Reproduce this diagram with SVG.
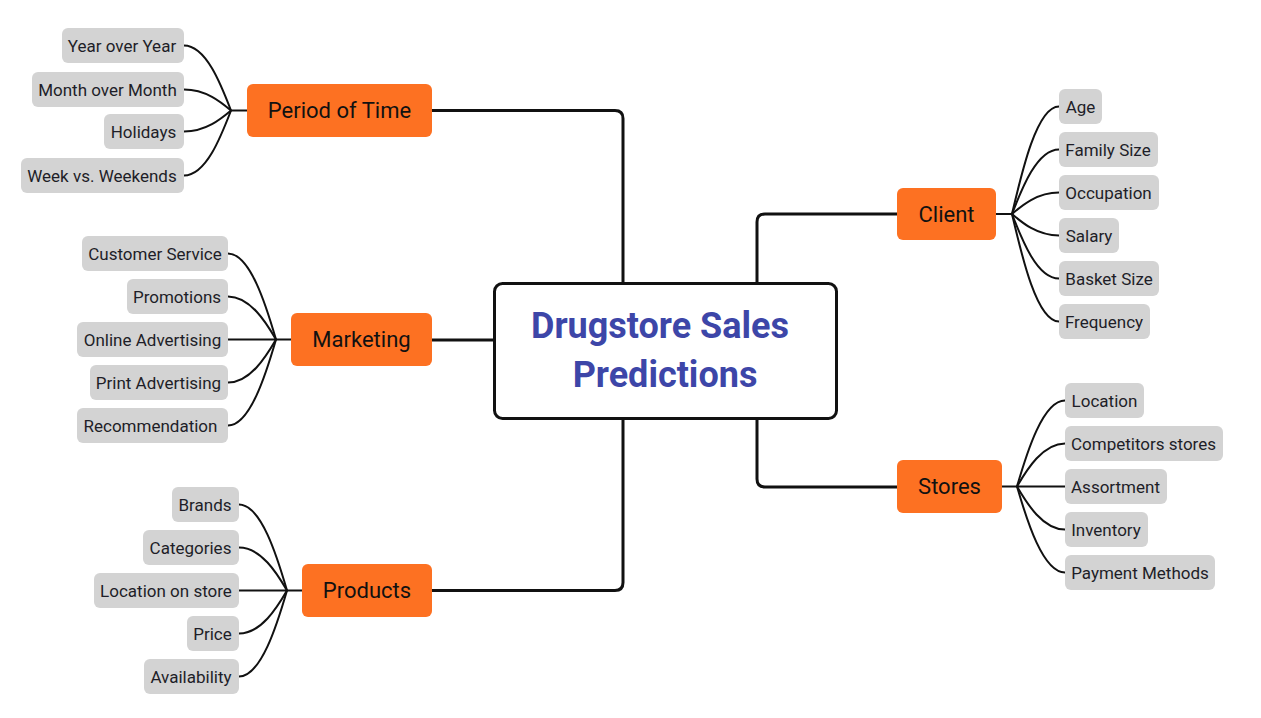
<svg xmlns="http://www.w3.org/2000/svg" width="1261" height="718" viewBox="0 0 1261 718">
<style>
.leaf rect{fill:#d3d3d3}
.leaf text{font-family:Roboto,"Liberation Sans",sans-serif;font-size:17px;fill:#1e1e28;text-anchor:middle}
.topic rect{fill:#fd7122}
.topic text{font-family:Roboto,"Liberation Sans",sans-serif;font-size:22px;fill:#111;text-anchor:middle}
.main{fill:none;stroke:#111;stroke-width:3}
.sub{fill:none;stroke:#111;stroke-width:2}
.title{font-family:Roboto,"Liberation Sans",sans-serif;font-size:36px;font-weight:bold;fill:#3d46a8;text-anchor:middle}
</style>
<rect width="1261" height="718" fill="#fff"/>
<g id="connectors">
<path class="main" d="M623,282 V118.5 Q623,110.5 615,110.5 H432"/>
<path class="main" d="M757,282 V222 Q757,214 765,214 H897"/>
<path class="main" d="M432,340 H493"/>
<path class="main" d="M623,420 V582.5 Q623,590.5 615,590.5 H432"/>
<path class="main" d="M757,420 V479 Q757,487 765,487 H897"/>
<path class="sub" d="M184,45.5 C206,45.5 221,84.5 231,110.5"/>
<path class="sub" d="M184,89.5 C206,89.5 221,102.1 231,110.5"/>
<path class="sub" d="M184,131.5 C206,131.5 221,118.9 231,110.5"/>
<path class="sub" d="M184,175.5 C206,175.5 221,136.5 231,110.5"/>
<path class="sub" d="M231,110.5 H247"/>
<path class="sub" d="M228,253.5 C250,253.5 266,305.1 276,339.5"/>
<path class="sub" d="M228,296.5 C250,296.5 266,322.3 276,339.5"/>
<path class="sub" d="M228,339.5 H291"/>
<path class="sub" d="M228,382.5 C250,382.5 266,356.7 276,339.5"/>
<path class="sub" d="M228,425.5 C250,425.5 266,373.9 276,339.5"/>
<path class="sub" d="M239,504.5 C261,504.5 277,556.1 287,590.5"/>
<path class="sub" d="M239,547.5 C261,547.5 277,573.3 287,590.5"/>
<path class="sub" d="M239,590.5 H302"/>
<path class="sub" d="M239,633.5 C261,633.5 277,607.7 287,590.5"/>
<path class="sub" d="M239,676.5 C261,676.5 277,624.9 287,590.5"/>
<path class="sub" d="M996,214 H1012"/>
<path class="sub" d="M1059,106.5 C1037,106.5 1022,171 1012,214"/>
<path class="sub" d="M1059,149.5 C1037,149.5 1022,188.2 1012,214"/>
<path class="sub" d="M1059,192.5 C1037,192.5 1022,205.4 1012,214"/>
<path class="sub" d="M1059,235.5 C1037,235.5 1022,222.6 1012,214"/>
<path class="sub" d="M1059,278.5 C1037,278.5 1022,239.8 1012,214"/>
<path class="sub" d="M1059,321.5 C1037,321.5 1022,257 1012,214"/>
<path class="sub" d="M1002,486.5 H1065"/>
<path class="sub" d="M1065,400.5 C1043,400.5 1027,452.1 1017,486.5"/>
<path class="sub" d="M1065,443.5 C1043,443.5 1027,469.3 1017,486.5"/>
<path class="sub" d="M1065,529.5 C1043,529.5 1027,503.7 1017,486.5"/>
<path class="sub" d="M1065,572.5 C1043,572.5 1027,520.9 1017,486.5"/>
</g>
<g id="center">
<rect x="494.5" y="283.5" width="342" height="135" rx="8" fill="#fff" stroke="#111" stroke-width="3"/>
<text class="title" x="660" y="338">Drugstore Sales</text>
<text class="title" x="665" y="387">Predictions</text>
</g>
<g id="period" class="topic"><rect x="247" y="84" width="185" height="53" rx="6"/><text x="339.5" y="118">Period of Time</text></g>
<g id="marketing" class="topic"><rect x="291" y="313" width="141" height="53" rx="6"/><text x="361.5" y="347">Marketing</text></g>
<g id="products" class="topic"><rect x="302" y="564" width="130" height="53" rx="6"/><text x="367" y="598">Products</text></g>
<g id="client" class="topic"><rect x="897" y="188" width="99" height="52" rx="6"/><text x="946.5" y="221.5">Client</text></g>
<g id="stores" class="topic"><rect x="897" y="460" width="105" height="53" rx="6"/><text x="949.5" y="494">Stores</text></g>

<g id="yoy" class="leaf"><rect x="62" y="28" width="122" height="35" rx="6"/><text x="122" y="51.5">Year over Year</text></g>
<g id="mom" class="leaf"><rect x="32" y="72" width="152" height="35" rx="6"/><text x="107.5" y="95.5">Month over Month</text></g>
<g id="holidays" class="leaf"><rect x="104" y="114" width="80" height="35" rx="6"/><text x="143.5" y="137.5">Holidays</text></g>
<g id="week" class="leaf"><rect x="21" y="158" width="163" height="35" rx="6"/><text x="102" y="181.5">Week vs. Weekends</text></g>

<g id="custserv" class="leaf"><rect x="82" y="236" width="146" height="35" rx="6"/><text x="155" y="259.5">Customer Service</text></g>
<g id="promotions" class="leaf"><rect x="127" y="279" width="101" height="35" rx="6"/><text x="177" y="302.5">Promotions</text></g>
<g id="online" class="leaf"><rect x="77" y="322" width="151" height="35" rx="6"/><text x="152.5" y="345.5">Online Advertising</text></g>
<g id="print" class="leaf"><rect x="90" y="365" width="138" height="35" rx="6"/><text x="158.5" y="388.5">Print Advertising</text></g>
<g id="recommendation" class="leaf"><rect x="77" y="408" width="151" height="35" rx="6"/><text x="150.5" y="431.5">Recommendation</text></g>

<g id="brands" class="leaf"><rect x="172" y="487" width="67" height="35" rx="6"/><text x="205" y="510.5">Brands</text></g>
<g id="categories" class="leaf"><rect x="143" y="530" width="96" height="35" rx="6"/><text x="190.5" y="553.5">Categories</text></g>
<g id="locstore" class="leaf"><rect x="94" y="573" width="145" height="35" rx="6"/><text x="166" y="596.5">Location on store</text></g>
<g id="price" class="leaf"><rect x="187" y="616" width="52" height="35" rx="6"/><text x="212.5" y="639.5">Price</text></g>
<g id="availability" class="leaf"><rect x="144" y="659" width="95" height="35" rx="6"/><text x="191" y="682.5">Availability</text></g>

<g id="age" class="leaf"><rect x="1059" y="89" width="43" height="35" rx="6"/><text x="1080.5" y="112.5">Age</text></g>
<g id="family" class="leaf"><rect x="1059" y="132" width="99" height="35" rx="6"/><text x="1108" y="155.5">Family Size</text></g>
<g id="occupation" class="leaf"><rect x="1059" y="175" width="100" height="35" rx="6"/><text x="1108.5" y="198.5">Occupation</text></g>
<g id="salary" class="leaf"><rect x="1059" y="218" width="60" height="35" rx="6"/><text x="1089" y="241.5">Salary</text></g>
<g id="basket" class="leaf"><rect x="1059" y="261" width="100" height="35" rx="6"/><text x="1109" y="284.5">Basket Size</text></g>
<g id="frequency" class="leaf"><rect x="1059" y="304" width="91" height="35" rx="6"/><text x="1104" y="327.5">Frequency</text></g>

<g id="location" class="leaf"><rect x="1065" y="383" width="79" height="35" rx="6"/><text x="1104.5" y="406.5">Location</text></g>
<g id="competitors" class="leaf"><rect x="1065" y="426" width="158" height="35" rx="6"/><text x="1143.5" y="449.5">Competitors stores</text></g>
<g id="assortment" class="leaf"><rect x="1065" y="469" width="102" height="35" rx="6"/><text x="1115.5" y="492.5">Assortment</text></g>
<g id="inventory" class="leaf"><rect x="1065" y="512" width="83" height="35" rx="6"/><text x="1106" y="535.5">Inventory</text></g>
<g id="payment" class="leaf"><rect x="1065" y="555" width="150" height="35" rx="6"/><text x="1140" y="578.5">Payment Methods</text></g>
</svg>
